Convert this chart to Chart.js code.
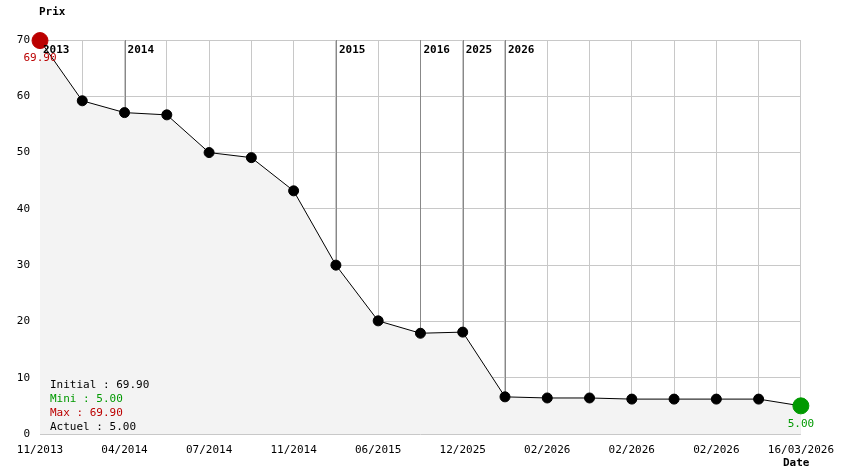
<!DOCTYPE html>
<html><head><meta charset="utf-8">
<script src="https://cdn.jsdelivr.net/npm/chart.js@4/dist/chart.umd.min.js"></script>
<style>html,body{margin:0;background:#fff}#c{display:block}</style>
</head><body>
<div style="width:844px;height:474px"><canvas id="c"></canvas></div>
<script>
const labels = ["11/2013","","04/2014","","07/2014","","11/2014","","06/2015","","12/2025","","02/2026","","02/2026","","02/2026","","16/03/2026"];
const prices = [69.9,59.2,57.1,56.7,50,49.1,43.2,30,20.1,17.9,18.1,6.6,6.4,6.4,6.2,6.2,6.2,6.2,5.0];
const yearIdx = [0,2,7,9,10,11];
const yearNames = ["2013","2014","2015","2016","2025","2026"];
const infoLines = [["Initial : 69.90","#000"],["Mini : 5.00","#009900"],["Max : 69.90","#bb0000"],["Actuel : 5.00","#000"]];

const FONT = "DejaVu Sans Mono";
const n = prices.length;
const ptColor = prices.map((v,i)=> i===0 ? "#bb0000" : i===n-1 ? "#009900" : "#000");
const ptRadius = prices.map((v,i)=> (i===0||i===n-1) ? 8 : 5);

const overlay = {
  id: "overlay",
  beforeDatasetsDraw(chart) {
    const {ctx, chartArea:a, scales:{x}} = chart;
    ctx.save();
    ctx.strokeStyle = "#888"; ctx.lineWidth = 1;
    yearIdx.forEach((i,k) => {
      const px = Math.round(x.getPixelForValue(i)) + 0.5;
      ctx.beginPath(); ctx.moveTo(px, a.top); ctx.lineTo(px, a.bottom); ctx.stroke();
    });
    ctx.restore();
  },
  afterDatasetsDraw(chart) {
    const {ctx, chartArea:a, scales:{x,y}} = chart;
    ctx.save();
    ctx.font = "bold 11px '" + FONT + "'";
    ctx.fillStyle = "#000"; ctx.textBaseline = "middle"; ctx.textAlign = "left";
    yearIdx.forEach((i,k) => ctx.fillText(yearNames[k], x.getPixelForValue(i)+3, a.top+10));
    ctx.fillText("Prix", 39, 12);
    ctx.fillText("Date", 783, 463);
    ctx.font = "11px '" + FONT + "'";
    infoLines.forEach((l,k) => { ctx.fillStyle = l[1]; ctx.fillText(l[0], 50, 385 + k*14); });
    ctx.textAlign = "center";
    ctx.fillStyle = "#bb0000";
    ctx.fillText("69.90", x.getPixelForValue(0), y.getPixelForValue(prices[0])+18);
    ctx.fillStyle = "#009900";
    ctx.fillText("5.00", x.getPixelForValue(n-1), y.getPixelForValue(prices[n-1])+18);
    ctx.restore();
  }
};

new Chart(document.getElementById("c"), {
  type: "line",
  data: { labels, datasets: [{
    data: prices, borderColor: "#000", borderWidth: 1, tension: 0, clip: false,
    fill: true, backgroundColor: "#f3f3f3",
    pointBackgroundColor: ptColor, pointBorderColor: ptColor,
    pointRadius: ptRadius, pointHoverRadius: ptRadius
  }]},
  options: {
    responsive: true, maintainAspectRatio: false, animation: false,
    layout: { padding: { top: 40, right: 36, left: 0, bottom: 0 } },
    plugins: { legend: { display: false }, tooltip: { enabled: false } },
    scales: {
      x: {
        offset: false,
        afterFit(s) { s.height = 40; },
        grid: { color: "#c8c8c8", drawTicks: false },
        border: { display: false },
        ticks: { autoSkip: false, maxRotation: 0, padding: 10, color: "#000", font: { family: FONT, size: 11 } }
      },
      y: {
        min: 0, max: 70,
        afterFit(s) { s.width = 40; },
        grid: { color: "#c8c8c8", drawTicks: false },
        border: { display: false },
        ticks: { stepSize: 10, padding: 10, color: "#000", font: { family: FONT, size: 11 } }
      }
    }
  },
  plugins: [overlay]
});
</script>
</body></html>
